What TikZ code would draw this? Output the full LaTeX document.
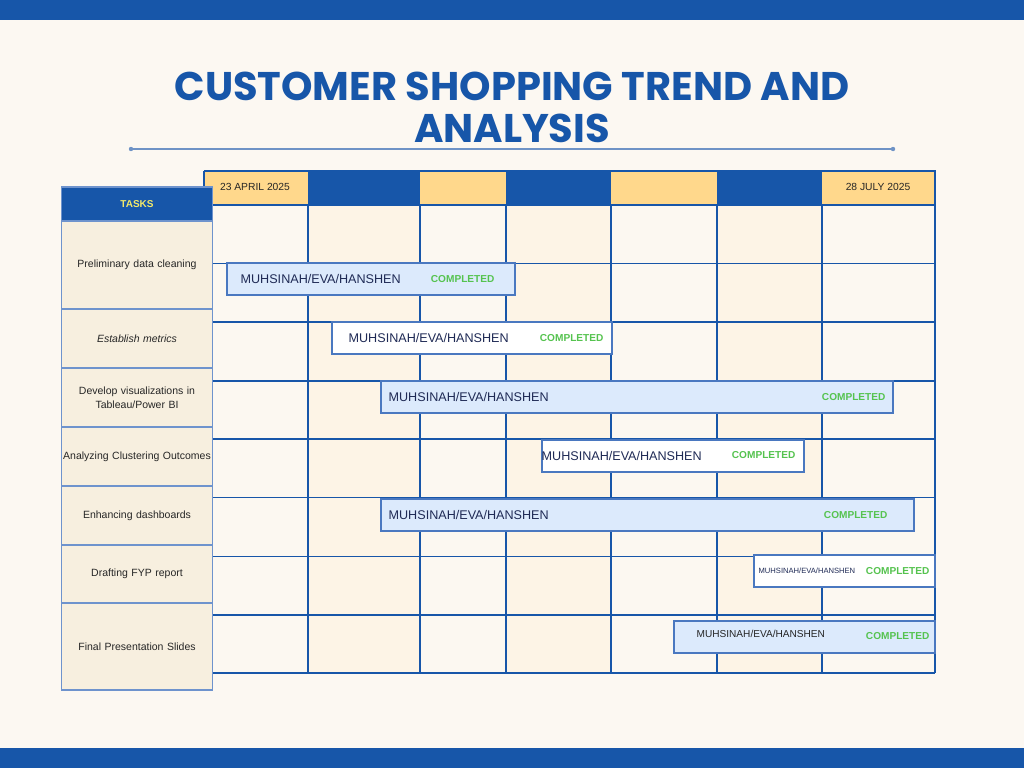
\documentclass[tikz,border=0pt]{standalone}
\usepackage{fontspec}
\setmainfont{Liberation Sans}
\newfontfamily\titlefont{Poppins}
\usetikzlibrary{positioning}
\definecolor{navy}{HTML}{1756A9}
\definecolor{paper}{HTML}{FCF8F2}
\definecolor{cellA}{HTML}{FCF8F1}
\definecolor{cellB}{HTML}{FDF4E6}
\definecolor{taskbg}{HTML}{F7EFDF}
\definecolor{gold}{HTML}{FFD88C}
\definecolor{barblue}{HTML}{DCEAFC}
\definecolor{barline}{HTML}{4A78C0}
\definecolor{donegreen}{HTML}{55C34F}
\definecolor{ink}{HTML}{1F2A55}
\definecolor{rule}{HTML}{6F93C6}
\definecolor{tasktext}{HTML}{F3E96A}
\tikzset{
  titletext/.style={font=\titlefont\bfseries\fontsize{40}{44}\selectfont, text=navy, inner sep=0pt},
  gridline/.style={draw=navy, line width=1.1pt},
  taskcell/.style={draw=barline!80, fill=taskbg, line width=1.1pt, minimum width=151pt,
                   inner sep=1pt, text width=148pt, align=center,
                   font=\fontsize{10.5}{14}\selectfont, text=black!85},
  bar/.style={draw=barline, line width=1.1pt, minimum height=32pt, inner sep=0pt},
  who/.style={anchor=west, inner sep=0pt, text=ink, font=\fontsize{12.6}{13}\selectfont},
  done/.style={anchor=east, inner sep=0pt, text=donegreen, font=\bfseries\fontsize{10.1}{11}\selectfont},
  datetext/.style={inner sep=0pt, text=black!85, font=\fontsize{10.3}{11}\selectfont},
}
\begin{document}
\begin{tikzpicture}[x=1pt, y=-1pt]
\useasboundingbox (0,0) rectangle (1024,768);
\fill[paper] (0,0) rectangle (1024,768);
\fill[navy] (0,0) rectangle (1024,20);
\fill[navy] (0,748) rectangle (1024,768);

% title
\node[titletext] (title1) at (512,86) {CUSTOMER SHOPPING TREND AND};
\node[titletext] (title2) at (512,128) {ANALYSIS};
\draw[rule, line width=1.8pt] (131,149) -- (893,149);
\fill[rule] (131,149) circle (2.2) (893,149) circle (2.2);

% timeline grid
\foreach \xa/\xb [count=\i] in {204/308,308/420,420/506,506/611,611/717,717/822,822/935}{
  \ifodd\i
    \fill[cellA] (\xa,205) rectangle (\xb,673);
    \fill[gold] (\xa,171) rectangle (\xb,205);
  \else
    \fill[cellB] (\xa,205) rectangle (\xb,673);
    \fill[navy] (\xa,171) rectangle (\xb,205);
  \fi
}
\foreach \y in {205,263.5,322,381,439,497.5,556.5,615,673}
  \draw[gridline] (204,\y) -- (935,\y);
\foreach \x in {308,420,506,611,717,822}
  \draw[gridline] (\x,205) -- (\x,673);
\draw[gridline] (204,171) -- (935,171) -- (935,673);
\draw[gridline] (204,171) -- (204,205);

\node[datetext] (start) at (255,187) {23 APRIL 2025};
\node[datetext] (finish) at (878,187) {28 JULY 2025};

% task column
\node[taskcell, fill=navy, minimum height=34pt, text=tasktext,
      font=\bfseries\fontsize{10}{12}\selectfont] (tasks) at (137,204) {TASKS};
\node[taskcell, minimum height=88pt] (clean)   at (137,265)   {Preliminary data cleaning};
\node[taskcell, minimum height=59pt] (metrics) at (137,338.5) {\itshape Establish metrics};
\node[taskcell, minimum height=59pt] (visual)  at (137,397.5) {Develop visualizations in\\Tableau/Power BI};
\node[taskcell, minimum height=59pt] (cluster) at (137,456.5) {Analyzing Clustering Outcomes};
\node[taskcell, minimum height=59pt] (dash)    at (137,515.5) {Enhancing dashboards};
\node[taskcell, minimum height=58pt] (report)  at (137,574)   {Drafting FYP report};
\node[taskcell, minimum height=87pt] (slides)  at (137,646.5) {Final Presentation Slides};

% bars
\node[bar, fill=barblue, minimum width=288pt] (cleanbar)   at (371,279)   {};
\node[bar, fill=white,   minimum width=280pt] (metricsbar) at (472,338)   {};
\node[bar, fill=barblue, minimum width=512pt] (visualbar)  at (637,397)   {};
\node[bar, fill=white,   minimum width=262pt] (clusterbar) at (673,456)   {};
\node[bar, fill=barblue, minimum width=533pt] (dashbar)    at (647.5,515) {};
\node[bar, fill=white,   minimum width=181pt] (reportbar)  at (844.5,571) {};
\node[bar, fill=barblue, minimum width=261pt] (slidesbar)  at (804.5,637) {};

\node[who] (cleanwho)   at ([xshift=14pt]cleanbar.west)   {MUHSINAH/EVA/HANSHEN};
\node[who] (metricswho) at ([xshift=17pt]metricsbar.west) {MUHSINAH/EVA/HANSHEN};
\node[who] (visualwho)  at ([xshift=8pt]visualbar.west)   {MUHSINAH/EVA/HANSHEN};
\node[who] (clusterwho) at ([xshift=0pt]clusterbar.west)  {MUHSINAH/EVA/HANSHEN};
\node[who] (dashwho)    at ([xshift=8pt]dashbar.west)     {MUHSINAH/EVA/HANSHEN};
\node[who, font=\fontsize{7.6}{8}\selectfont] (reportwho) at ([xshift=5pt]reportbar.west) {MUHSINAH/EVA/HANSHEN};
\node[who, font=\fontsize{10.1}{11}\selectfont, text=black!85] (slideswho) at ([xshift=23pt,yshift=3pt]slidesbar.west) {MUHSINAH/EVA/HANSHEN};

\node[done] (cleandone)   at ([xshift=-21pt]cleanbar.east)   {COMPLETED};
\node[done] (metricsdone) at ([xshift=-9pt]metricsbar.east)  {COMPLETED};
\node[done] (visualdone)  at ([xshift=-8pt]visualbar.east)   {COMPLETED};
\node[done] (clusterdone) at ([xshift=-9pt,yshift=1pt]clusterbar.east) {COMPLETED};
\node[done] (dashdone)    at ([xshift=-27pt]dashbar.east)    {COMPLETED};
\node[done] (reportdone)  at ([xshift=-6pt]reportbar.east)   {COMPLETED};
\node[done] (slidesdone)  at ([xshift=-6pt,yshift=1pt]slidesbar.east) {COMPLETED};
\end{tikzpicture}
\end{document}
